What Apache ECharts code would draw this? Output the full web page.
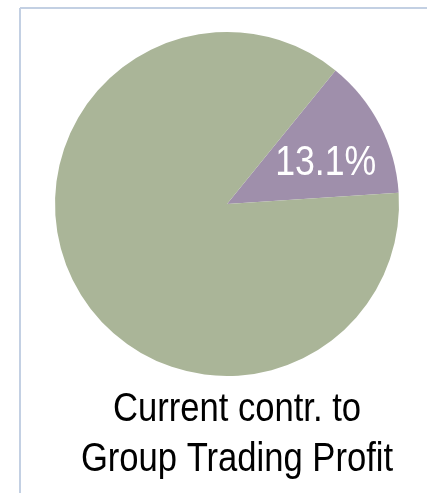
<!DOCTYPE html>
<html>
<head>
<meta charset="utf-8">
<script src="https://cdn.jsdelivr.net/npm/echarts@6/dist/echarts.min.js"></script>
<style>
  html, body { margin: 0; padding: 0; background: #ffffff; }
  #chart { width: 427px; height: 493px; }
</style>
</head>
<body>
<div id="chart"></div>
<script>
// Segments of group trading profit (percent)
const segments = ['Current contribution', 'Rest of group'];
const shares = [13.1, 86.9];
const colors = ['#9f8fab', '#aab598'];
const titleLines = ['Current contr. to', 'Group Trading Profit'];

const FONT = '"Liberation Sans", Arial, Helvetica, sans-serif';
const CENTER = [227, 204];
const RADIUS = 172;
const START_ANGLE = 50.9;   // degrees, counter-clockwise from 3 o'clock

const chart = echarts.init(document.getElementById('chart'), null, { renderer: 'canvas' });

// Value label for the highlighted slice, placed along the slice's mid-angle
const total = shares.reduce((a, b) => a + b, 0);
const midDeg = START_ANGLE - (shares[0] / total) * 360 / 2;
const labelR = RADIUS * 0.62;
const labelX = CENTER[0] + labelR * Math.cos(midDeg * Math.PI / 180) + 4;
const labelY = CENTER[1] - labelR * Math.sin(midDeg * Math.PI / 180) + 8;

// Narrow text: regular sans squeezed horizontally
function narrowText(text, x, y, size, color, sx) {
  return {
    type: 'text',
    x: x, y: y,
    scaleX: sx,
    z: 10,
    style: {
      text: text,
      fill: color,
      font: size + 'px ' + FONT,
      align: 'center',
      verticalAlign: 'middle'
    }
  };
}

chart.setOption({
  animation: false,
  backgroundColor: '#ffffff',
  graphic: [
    { type: 'line', shape: { x1: 20, y1: 8, x2: 427, y2: 8 }, style: { stroke: '#c3d0e3', lineWidth: 2 } },
    { type: 'line', shape: { x1: 20, y1: 8, x2: 20, y2: 493 }, style: { stroke: '#c3d0e3', lineWidth: 2 } },
    narrowText(shares[0].toFixed(1) + '%', labelX, labelY, 42, '#ffffff', 0.85),
    narrowText(titleLines[0], 237, 410, 40, '#000000', 0.865),
    narrowText(titleLines[1], 237, 460, 40, '#000000', 0.865)
  ],
  series: [{
    type: 'pie',
    center: CENTER,
    radius: RADIUS,
    startAngle: START_ANGLE,
    clockwise: true,
    label: { show: false },
    labelLine: { show: false },
    itemStyle: { borderWidth: 0 },
    emphasis: { disabled: true },
    data: segments.map((name, i) => ({
      name: name,
      value: shares[i],
      itemStyle: { color: colors[i] }
    }))
  }]
});
</script>
</body>
</html>
